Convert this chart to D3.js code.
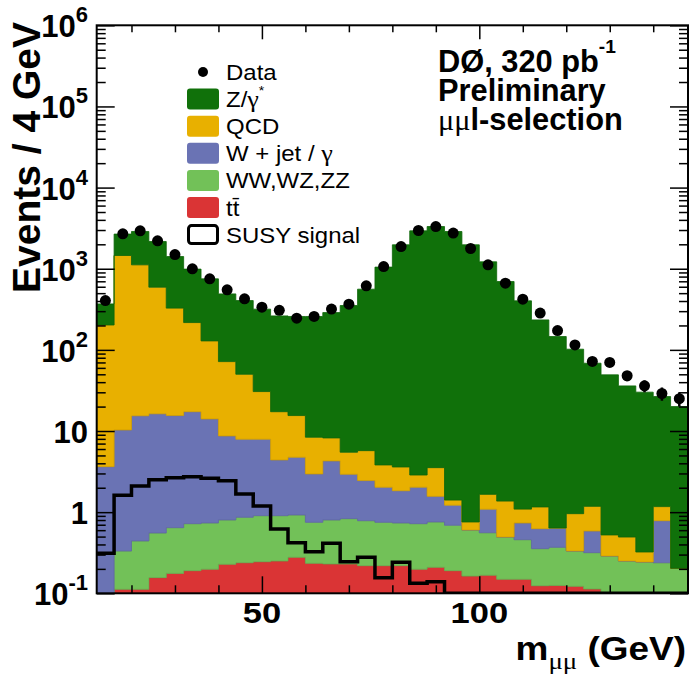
<!DOCTYPE html>
<html>
<head>
<meta charset="utf-8">
<script src="https://cdnjs.cloudflare.com/ajax/libs/d3/7.8.5/d3.min.js"></script>
<style>
  body { margin: 0; background: #fff; }
  svg text { font-family: "Liberation Sans", Arial, Helvetica, sans-serif; fill: #000; }
  .greek { font-family: "Liberation Serif", "Times New Roman", serif; font-weight: normal; }
</style>
</head>
<body>
<div id="chart"></div>
<script>
// lower edge of each 4 GeV bin
const binLow = [12, 16, 20, 24, 28, 32, 36, 40, 44, 48, 52, 56, 60, 64, 68, 72, 76,
                80, 84, 88, 92, 96, 100, 104, 108, 112, 116, 120, 124, 128, 132, 136, 140, 144];
const binWidth = 4;

// backgrounds, events per bin
const ttbar   = [0.02, 0.112, 0.112, 0.156, 0.176, 0.19, 0.198, 0.228, 0.238, 0.245, 0.25, 0.278,
                 0.234, 0.23, 0.23, 0.219, 0.219, 0.219, 0.198, 0.209, 0.19, 0.163, 0.167, 0.149,
                 0.149, 0.124, 0.125, 0.122, 0.113, 0.05, 0.05, 0.05, 0.05, 0.05];
const diboson = [0.03, 0.22, 0.33, 0.398, 0.468, 0.531, 0.538, 0.574, 0.627, 0.66, 0.655, 0.646,
                 0.516, 0.572, 0.602, 0.566, 0.531, 0.517, 0.523, 0.548, 0.5, 0.44, 0.391, 0.345,
                 0.309, 0.231, 0.244, 0.21, 0.204, 0.238, 0.2, 0.193, 0.188, 0.153];
const wjet    = [3.59, 9.97, 14.96, 15.75, 14.86, 16.58, 13.36, 7.9, 7.06, 7.02, 3.5, 3.83,
                 2.21, 3.48, 2.1, 1.665, 1.28, 1.1, 1.31, 0.81, 0.53, 0, 0.53, 0,
                 0.278, 0.271, 0.269, 0, 0.269, 0, 0, 0, 0.547, 0];
const qcd     = [199, 1445, 1102, 577, 311.5, 199.7, 114.9, 63.0, 42.2, 22.7, 12.9, 10.75,
                 5.43, 3.94, 2.55, 3.28, 1.79, 1.77, 0.84, 1.97, 0.19, 0.154, 0.57, 0.876,
                 0.354, 0.534, 0, 0.626, 0.594, 0.236, 0.244, 0.08, 0.385, 0];
const zgamma  = [166, 1217, 1759, 1571, 1087, 772, 621, 418, 355, 287, 245, 242.5,
                 249.6, 279.8, 346.5, 554, 1043, 1968, 2928, 3309, 2875, 1971, 1215, 694,
                 401, 233, 145.4, 101, 67.3, 48.7, 35.5, 29.8, 25.4, 19.8];

const dataCounts = [405, 2692, 2931, 2208, 1496, 997, 750, 550, 426, 336, 307, 246,
                    258, 318, 366, 615, 1064, 1878, 2958, 3313, 2748, 1775, 1117, 664,
                    422, 284, 173, 115, 72, 70, 48, 36, 29, 25];

const susy = [0.311, 1.62, 2.1, 2.5, 2.66, 2.74, 2.62, 2.43, 1.68, 1.19, 0.621, 0.421,
              0.326, 0.413, 0.245, 0.278, 0.156, 0.241, 0.133, 0.139, 0.05, 0.05, 0.05, 0.05,
              0.05, 0.05, 0.05, 0.05, 0.05, 0.05, 0.05, 0.05, 0.05, 0.05];

const yMajor = [0.1, 1, 10, 100, 1e3, 1e4, 1e5, 1e6];
const xMajor = [50, 100];
const xMinor = [20, 30, 40, 60, 70, 80, 90, 110, 120, 130, 140];

const keys = ["tt", "ww", "wj", "qcd", "z"];
const colors = { z: "#10710a", qcd: "#e8b000", wj: "#6a73b4", ww: "#72c158", tt: "#da3435" };

const W = 692, H = 675;
const x = d3.scaleLinear().domain([12, 148]).range([96.7, 688]);
const y = d3.scaleLog().domain([0.1, 1e6]).range([593.3, 25.3]);
const yc = v => y(Math.max(v, 0.1));

const svg = d3.select("#chart").append("svg").attr("width", W).attr("height", H);

svg.append("clipPath").attr("id", "plot")
   .append("rect").attr("x", 96.7).attr("y", 25.3).attr("width", 688 - 96.7).attr("height", 593.3 - 25.3);

const plot = svg.append("g").attr("clip-path", "url(#plot)");

// stacked histograms
const rows = binLow.map((b, i) => ({ lo: b, tt: ttbar[i], ww: diboson[i], wj: wjet[i], qcd: qcd[i], z: zgamma[i] }));
const layers = d3.stack().keys(keys)(rows);

const area = d3.area().curve(d3.curveStepAfter)
  .x(d => x(d.x)).y0(d => yc(d.y0)).y1(d => yc(d.y1));

layers.forEach(layer => {
  const pts = layer.map((s, i) => ({ x: binLow[i], y0: s[0], y1: s[1] }));
  const last = pts[pts.length - 1];
  pts.push({ x: last.x + binWidth, y0: last.y0, y1: last.y1 });
  plot.append("path")
      .attr("d", area(pts))
      .attr("fill", colors[layer.key])
      .attr("stroke", d3.color(colors[layer.key]).darker(0.3))
      .attr("stroke-width", 0.8);
});

// SUSY signal outline
const susyPts = binLow.map((b, i) => ({ x: b, v: susy[i] }));
susyPts.push({ x: 148, v: susy[susy.length - 1] });
plot.append("path")
    .attr("d", d3.line().curve(d3.curveStepAfter).x(d => x(d.x)).y(d => yc(d.v))(susyPts))
    .attr("fill", "none").attr("stroke", "#000").attr("stroke-width", 3.5);

// data points with sqrt(N) errors
const pts = plot.selectAll("g.data").data(dataCounts).enter().append("g").attr("class", "data");
pts.append("line")
   .attr("x1", (d, i) => x(binLow[i] + binWidth / 2)).attr("x2", (d, i) => x(binLow[i] + binWidth / 2))
   .attr("y1", d => y(d - Math.sqrt(d))).attr("y2", d => y(d + Math.sqrt(d)))
   .attr("stroke", "#000").attr("stroke-width", 2.5);
pts.append("circle")
   .attr("cx", (d, i) => x(binLow[i] + binWidth / 2)).attr("cy", d => y(d))
   .attr("r", 5.5).attr("fill", "#000");

// axes, ticks pointing inwards
const axes = svg.append("g");
const yMinor = [];
yMajor.slice(0, -1).forEach(v => { for (let k = 2; k <= 9; k++) yMinor.push(v * k); });

function styleAxis(g) {
  g.select(".domain").remove();
  g.selectAll("line").attr("stroke", "#000").attr("stroke-width", 1.5);
}
axes.append("g").attr("transform", "translate(0,593.3)")
    .call(d3.axisBottom(x).tickValues(xMajor).tickSize(-17).tickFormat("")).call(styleAxis);
axes.append("g").attr("transform", "translate(0,593.3)")
    .call(d3.axisBottom(x).tickValues(xMinor).tickSize(-8).tickFormat("")).call(styleAxis);
axes.append("g").attr("transform", "translate(0,25.3)")
    .call(d3.axisTop(x).tickValues(xMajor).tickSize(-14).tickFormat("")).call(styleAxis);
axes.append("g").attr("transform", "translate(0,25.3)")
    .call(d3.axisTop(x).tickValues(xMinor).tickSize(-7).tickFormat("")).call(styleAxis);
axes.append("g").attr("transform", "translate(96.7,0)")
    .call(d3.axisLeft(y).tickValues(yMajor).tickSize(-18).tickFormat("")).call(styleAxis);
axes.append("g").attr("transform", "translate(96.7,0)")
    .call(d3.axisLeft(y).tickValues(yMinor).tickSize(-9).tickFormat("")).call(styleAxis);
axes.append("g").attr("transform", "translate(688,0)")
    .call(d3.axisRight(y).tickValues(yMajor).tickSize(-18).tickFormat("")).call(styleAxis);
axes.append("g").attr("transform", "translate(688,0)")
    .call(d3.axisRight(y).tickValues(yMinor).tickSize(-9).tickFormat("")).call(styleAxis);

svg.append("rect").attr("x", 96.7).attr("y", 25.3).attr("width", 688 - 96.7).attr("height", 593.3 - 25.3)
   .attr("fill", "none").attr("stroke", "#000").attr("stroke-width", 2);

// text helper: position, size and horizontal stretch
function txt(x0, y0, size, sx, anchor) {
  return svg.append("text")
    .attr("transform", `translate(${x0},${y0}) scale(${sx},1)`)
    .attr("font-size", size).attr("font-weight", "bold")
    .attr("text-anchor", anchor || "start");
}

// y tick labels
yMajor.forEach(v => {
  const e = Math.round(Math.log10(v));
  const t = txt(88, y(v) + 12, 31, 1.0, "end");
  if (e === 0) t.text("1");
  else if (e === 1) t.text("10");
  else {
    t.append("tspan").text("10");
    t.append("tspan").attr("font-size", 22).attr("dy", -15).text(e < 0 ? "-1" : e);
  }
});

// x tick labels
xMajor.forEach(v => txt(x(v), 623, 30, 1.15, "middle").text(v));

// axis titles
svg.append("text").attr("transform", "translate(40,22) rotate(-90)")
   .attr("font-size", 39).attr("font-weight", "bold").attr("text-anchor", "end")
   .text("Events / 4 GeV");
const xt = txt(686, 660, 33, 1.12, "end");
xt.append("tspan").text("m");
xt.append("tspan").attr("class", "greek").attr("font-size", 24).attr("dy", 9).text("μμ");
xt.append("tspan").attr("dy", -9).text(" (GeV)");

// experiment label
const l1 = txt(438, 72, 30.5, 1.01, "start");
l1.append("tspan").text("DØ, 320 pb");
l1.append("tspan").attr("font-size", 19).attr("dy", -19).text("-1");
txt(438, 101, 30.5, 1.01, "start").text("Preliminary");
const l3 = txt(438, 130, 30.5, 1.01, "start");
l3.append("tspan").attr("class", "greek").attr("font-size", 30).text("μμ");
l3.append("tspan").text("l-selection");

// legend
const legend = [
  { label: "Data", type: "dot" },
  { label: "Z/γ", sup: "*", type: "box", key: "z" },
  { label: "QCD", type: "box", key: "qcd" },
  { label: "W + jet / γ", type: "box", key: "wj" },
  { label: "WW,WZ,ZZ", type: "box", key: "ww" },
  { label: "tt\u0304", type: "box", key: "tt" },
  { label: "SUSY signal", type: "line" }
];
legend.forEach((d, i) => {
  const cy = 72 + i * 27.1;
  if (d.type === "dot") {
    svg.append("circle").attr("cx", 203).attr("cy", cy).attr("r", 5).attr("fill", "#000");
  } else if (d.type === "box") {
    svg.append("rect").attr("x", 187).attr("y", cy - 10.5).attr("width", 32).attr("height", 21)
       .attr("rx", 3).attr("fill", colors[d.key]);
  } else {
    svg.append("rect").attr("x", 188.5).attr("y", cy - 9).attr("width", 29).attr("height", 18)
       .attr("rx", 3).attr("fill", "#fff").attr("stroke", "#000").attr("stroke-width", 3);
  }
  const t = txt(226, cy + 8, 22, 1.09, "start").attr("font-weight", "normal");
  if (d.label.includes("γ")) {
    const parts = d.label.split("γ");
    t.append("tspan").text(parts[0]);
    t.append("tspan").attr("class", "greek").attr("font-size", 24).text("γ");
    if (d.sup) t.append("tspan").attr("font-size", 13).attr("dy", -12).text(d.sup);
  } else {
    t.text(d.label);
  }
});
</script>
</body>
</html>
